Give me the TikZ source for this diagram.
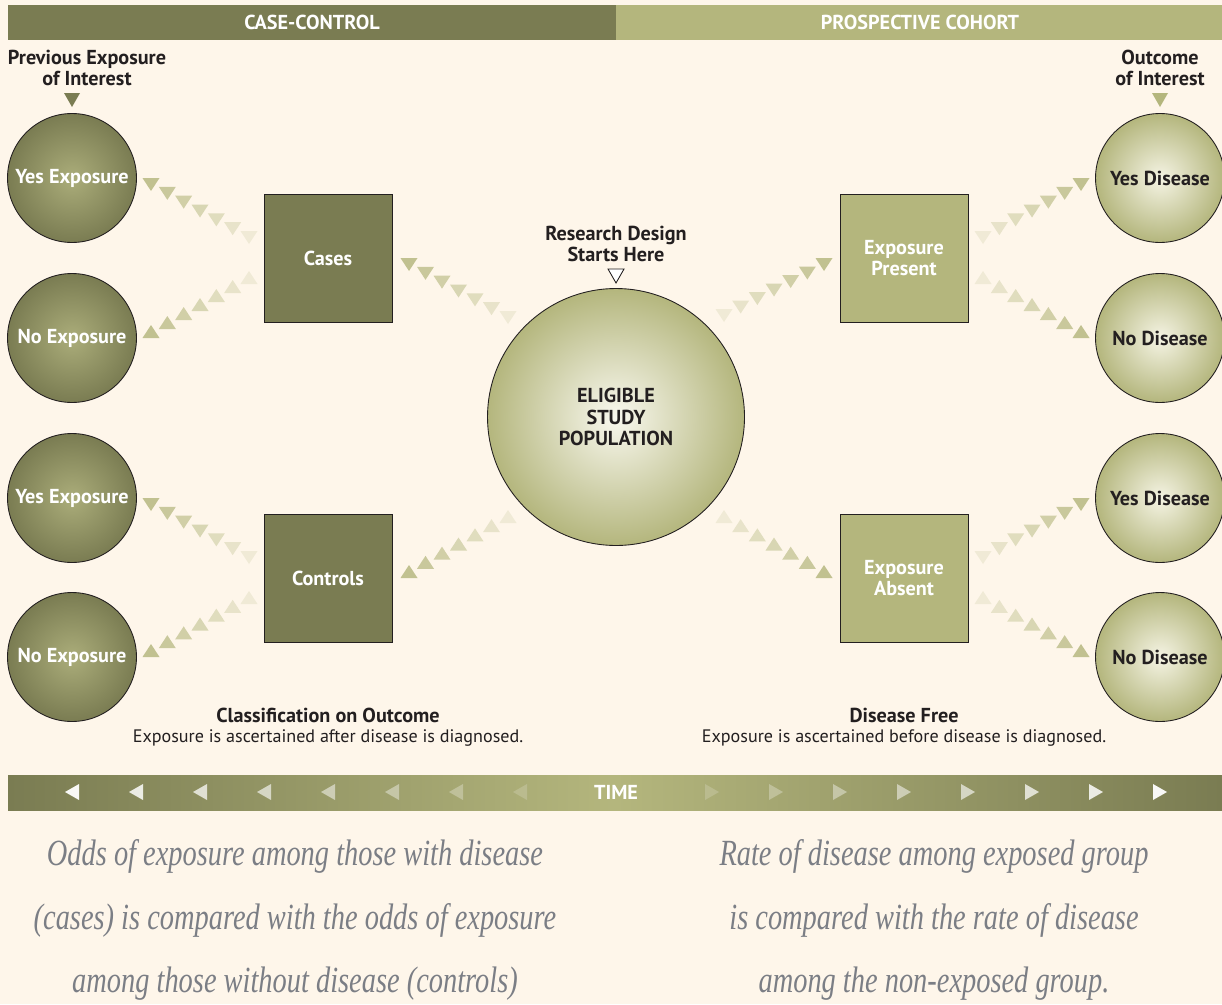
\documentclass[tikz,border=0pt]{standalone}
\usepackage{fontspec}
\setmainfont{PT Sans}
\newfontfamily\notefont[FakeStretch=0.77]{Liberation Serif}
\usetikzlibrary{calc,positioning}

\definecolor{cream}{HTML}{FEF6EA}
\definecolor{darkolive}{HTML}{7A7C52}
\definecolor{lightolive}{HTML}{B4B67D}
\definecolor{midolive}{HTML}{ABAD7A}
\definecolor{paleolive}{HTML}{F5F4E4}
\definecolor{chevcol}{HTML}{B6B880}
\definecolor{notegray}{HTML}{7B7E85}
\definecolor{ink}{HTML}{231F20}

% a row of seven fading triangles, dark end first
\newcommand{\chev}[5]{%
  \path (#1) ++(#2) coordinate (cs) (#3) ++(#4) coordinate (ce);
  \foreach \i in {0,...,6}{%
    \pgfmathtruncatemacro\mix{85-\i*11}
    \fill[chevcol!\mix!cream] ($(cs)!\i/6!(ce)$) +(-8.5,{-6*(#5)}) -- +(8.5,{-6*(#5)}) -- +(0,{7*(#5)}) -- cycle;}}

\begin{document}
\begin{tikzpicture}[x=0.02cm, y=-0.02cm]
\tikzset{every node/.style={font=\bfseries\fontsize{11.5}{12}\selectfont, text=ink, align=center}}
\tikzset{darkball/.style={circle, draw=ink, line width=0.5pt, minimum size=2.58cm, inner sep=0pt, inner color=midolive, outer color=darkolive, text=white}}
\tikzset{lightball/.style={circle, draw=ink, line width=0.5pt, minimum size=2.58cm, inner sep=0pt, inner color=paleolive, outer color=lightolive}}
\tikzset{darkbox/.style={draw=ink, line width=0.5pt, fill=darkolive, minimum size=2.56cm, text=white}}
\tikzset{lightbox/.style={draw=ink, line width=0.5pt, fill=lightolive, minimum size=2.56cm, text=white}}
\tikzset{plain/.style={font=\fontsize{10.3}{12}\selectfont}}

\useasboundingbox[fill=cream] (0,0) rectangle (1222,1004);

% top bars
\fill[darkolive] (8,5) rectangle (616,40);
\fill[lightolive] (616,5) rectangle (1222,40);
\node[text=white] (cc) at (312,22) {CASE-CONTROL};
\node[text=white] (pc) at (920,22) {PROSPECTIVE COHORT};

% left side
\node (prev) at (87,68) {Previous Exposure\\of Interest};
\fill[darkolive] (64,93) -- (80,93) -- (72,107) -- cycle;
\node[darkball] (yesA) at (72,178) {Yes Exposure};
\node[darkball] (noA) at (72,338) {No Exposure};
\node[darkball] (yesB) at (72,498) {Yes Exposure};
\node[darkball] (noB) at (72,657) {No Exposure};
\node[darkbox] (cases) at (328,258) {Cases};
\node[darkbox] (controls) at (328,578) {Controls};

% centre
\node (start) at (616,244) {Research Design\\Starts Here};
\draw[ink, fill=white, line width=0.5pt] (608,269) -- (624,269) -- (616,283) -- cycle;
\node[lightball, minimum size=5.14cm, inner color=paleolive!60!white] (pop) at (616,417) {ELIGIBLE\\STUDY\\POPULATION};

% right side
\node (outc) at (1160,68) {Outcome\\of Interest};
\fill[lightolive] (1152,93) -- (1168,93) -- (1160,107) -- cycle;
\node[lightbox] (present) at (904,258) {Exposure\\Present};
\node[lightbox] (absent) at (904,578) {Exposure\\Absent};
\node[lightball] (ydA) at (1160,178) {Yes Disease};
\node[lightball] (ndA) at (1160,338) {No Disease};
\node[lightball] (ydB) at (1160,498) {Yes Disease};
\node[lightball] (ndB) at (1160,657) {No Disease};

% triangle rows
\chev{yesA}{79,6}{cases}{-79,-21}{1}
\chev{noA}{79,-6}{cases}{-79,20}{-1}
\chev{cases}{81,6}{pop}{-108,-100}{1}
\chev{present}{-80,6}{pop}{108,-102}{1}
\chev{ydA}{-79,6}{present}{79,-21}{1}
\chev{ndA}{-79,-6}{present}{79,20}{-1}
\chev{yesB}{79,6}{controls}{-79,-21}{1}
\chev{noB}{79,-6}{controls}{-79,20}{-1}
\chev{controls}{81,-6}{pop}{-108,100}{-1}
\chev{absent}{-80,-6}{pop}{108,100}{-1}
\chev{ydB}{-79,6}{absent}{79,-21}{1}
\chev{ndB}{-79,-6}{absent}{79,20}{-1}

% captions
\node (cls) at (328,715) {Classification on Outcome};
\node[plain, below=-3pt of cls] (clsnote) {Exposure is ascertained after disease is diagnosed.};
\node (free) at (904,715) {Disease Free};
\node[plain, below=-3pt of free] (freenote) {Exposure is ascertained before disease is diagnosed.};

% time bar
\shade[left color=darkolive, right color=darkolive, middle color=lightolive] (8,775) rectangle (1222,810);
\node[text=white] (time) at (616,792) {TIME};
\foreach \k in {0,...,7}{
  \pgfmathsetmacro\op{0.95-\k*0.11}
  \fill[white, fill opacity=\op] ({79+64*\k},784) -- ({79+64*\k},800) -- ({65+64*\k},792) -- cycle;
  \fill[white, fill opacity=\op] ({1153-64*\k},784) -- ({1153-64*\k},800) -- ({1167-64*\k},792) -- cycle;
}

% notes
\node[font=\notefont\itshape\fontsize{21}{36}\selectfont, text=notegray] (oddsnote) at (295,920) {Odds of exposure among those with disease\\(cases) is compared with the odds of exposure\\among those without disease (controls)};
\node[font=\notefont\itshape\fontsize{21}{36}\selectfont, text=notegray] (ratenote) at (934,920) {Rate of disease among exposed group\\is compared with the rate of disease\\among the non-exposed group.};
\end{tikzpicture}
\end{document}
